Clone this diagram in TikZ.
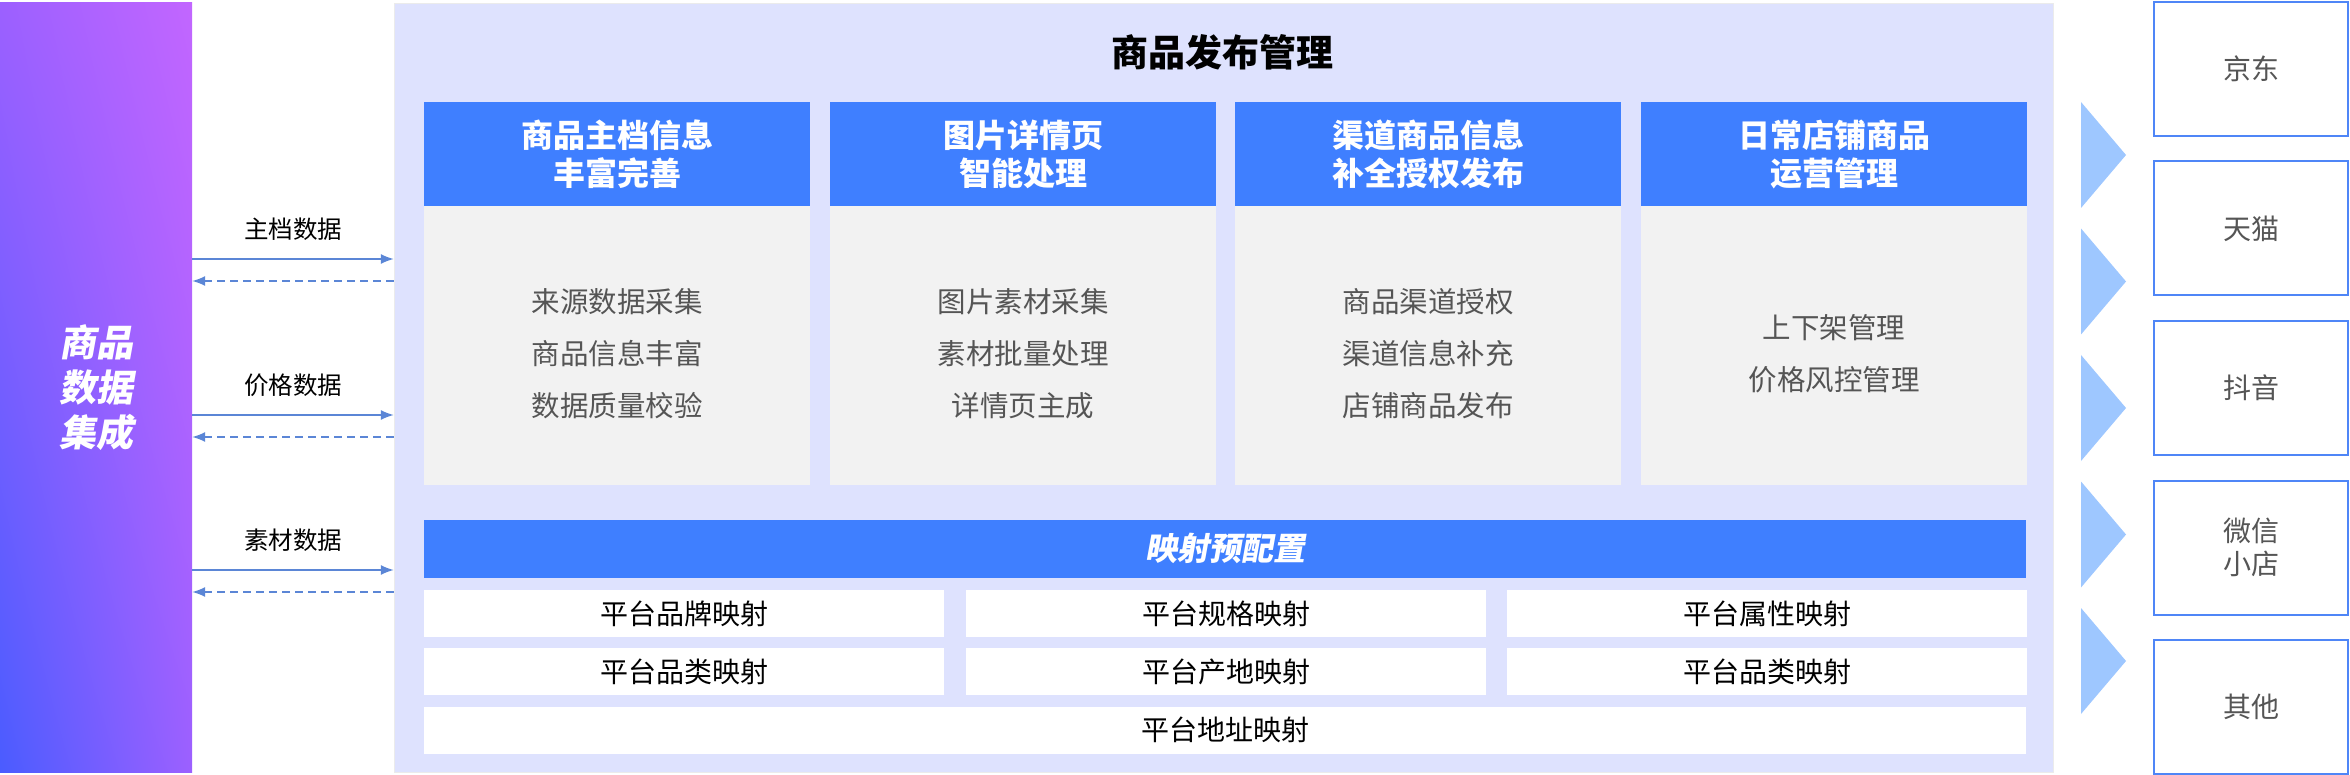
\documentclass[tikz,border=0pt]{standalone}
\usepackage{fontspec}
\setmainfont{Noto Sans CJK SC}
\newfontfamily\slantcjk[FakeSlant=0.18]{Noto Sans CJK SC}
\usetikzlibrary{arrows.meta,shadings}

\definecolor{panelblue}{HTML}{DEE2FE}
\definecolor{headblue}{HTML}{3F7FFF}
\definecolor{bodygray}{HTML}{F2F2F2}
\definecolor{linkblue}{HTML}{5B86D6}
\definecolor{triblue}{HTML}{9EC7FF}
\definecolor{edgeblue}{HTML}{4F86F7}
\definecolor{txtgray}{HTML}{555555}
\definecolor{srcleft}{HTML}{4A5CFF}
\definecolor{srcright}{HTML}{C266FF}
\definecolor{srcmid}{HTML}{9C60FF}

\newcommand\fsz[2]{\fontsize{#1}{#2}\selectfont}

\tikzset{
  hd/.style={fill=headblue,text=white,font=\fsz{32}{38}\bfseries,align=center,
    minimum width=386pt,minimum height=104pt,inner sep=0pt},
  bd/.style={fill=bodygray,minimum width=386pt,minimum height=279pt,inner sep=0pt},
  bdtext/.style={text=txtgray,font=\fsz{28.5}{52},align=center,inner sep=0pt},
  mp/.style={fill=white,font=\fsz{28}{30},minimum width=520pt,minimum height=47pt,inner sep=0pt},
  ch/.style={draw=edgeblue,line width=2pt,fill=white,text=txtgray,font=\fsz{28}{33},align=center,
    minimum width=194pt,minimum height=134pt,inner sep=0pt},
  flow/.style={linkblue,line width=1.5pt},
}

\begin{document}
\begin{tikzpicture}[x=1pt,y=-1pt]
  \useasboundingbox (0,0) rectangle (2350,775);

  % source block
  \node[lower left=srcleft,upper right=srcright,lower right=srcmid,upper left=srcmid,
    minimum width=192pt,minimum height=769pt,inner sep=0pt,
    text=white,font=\fsz{37}{45}\slantcjk\bfseries,align=center] (src) at (96,387.5) {商品\\数据\\集成};

  % publishing panel
  \node[fill=panelblue,draw=black!8,minimum width=1659pt,minimum height=769pt,inner sep=0pt] (pub) at (1223.5,387.5) {};
  \node[font=\fsz{37}{40}\bfseries] (title) at (1222,52) {商品发布管理};

  \foreach \x/\h/\b [count=\i] in {
      617/{商品主档信息\\丰富完善}/{来源数据采集\\商品信息丰富\\数据质量校验},
      1023/{图片详情页\\智能处理}/{图片素材采集\\素材批量处理\\详情页主成},
      1428/{渠道商品信息\\补全授权发布}/{商品渠道授权\\渠道信息补充\\店铺商品发布},
      1834/{日常店铺商品\\运营管理}/{上下架管理\\价格风控管理}} {
    \node[hd] (h\i) at (\x,154) {\h};
    \node[bd] (b\i) at (\x,345.5) {};
    \node[bdtext] (t\i) at ([yshift=-8pt]b\i.center) {\b};
  }

  % mapping
  \node[fill=headblue,text=white,font=\fsz{32}{34}\slantcjk\bfseries,
    minimum width=1602pt,minimum height=58pt,inner sep=0pt] (map) at (1225,548.5) {映射预配置};
  \node[mp] (m1) at (684,613.5) {平台品牌映射};
  \node[mp] (m2) at (1226,613.5) {平台规格映射};
  \node[mp] (m3) at (1767,613.5) {平台属性映射};
  \node[mp] (m4) at (684,671.5) {平台品类映射};
  \node[mp] (m5) at (1226,671.5) {平台产地映射};
  \node[mp] (m6) at (1767,671.5) {平台品类映射};
  \node[mp,minimum width=1602pt] (m7) at (1225,730) {平台地址映射};

  % data links
  \foreach \y/\t [count=\i] in {259/主档数据,415/价格数据,570/素材数据} {
    \node[font=\fsz{24.5}{26}] (l\i) at (293,\y-30) {\t};
    \draw[flow,-{Latex[length=13pt,width=10pt]}] (src.east |- 0,\y) -- (pub.west |- 0,\y);
    \draw[flow,dashed,dash pattern=on 8pt off 5pt,-{Latex[length=13pt,width=10pt]}] (pub.west |- 0,\y+22) -- (src.east |- 0,\y+22);
  }

  % channels
  \foreach \t [count=\i] in {京东,天猫,抖音,{微信\\小店},其他} {
    \fill[triblue] (2081,155+126.5*\i-126.5-53) -- (2126,155+126.5*\i-126.5) -- (2081,155+126.5*\i-126.5+53) -- cycle;
    \node[ch] (c\i) at (2251,69+159.5*\i-159.5) {\t};
  }
\end{tikzpicture}
\end{document}
